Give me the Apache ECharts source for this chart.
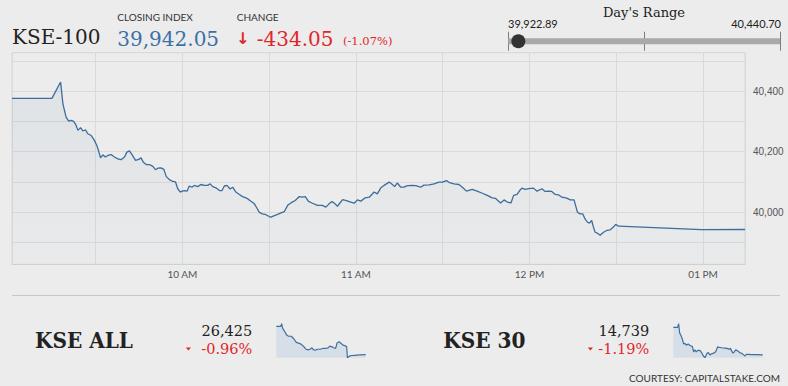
<!DOCTYPE html>
<html><head><meta charset="utf-8">
<script src="https://cdn.jsdelivr.net/npm/echarts@6/dist/echarts.min.js"></script>
<style>html,body{margin:0;padding:0;background:#ececec;}#c{width:788px;height:386px;}</style>
</head><body><div id="c"></div><script>
// ---- Data (minutes after 09:00) ----
const mainMinutes = [1.1,14.9,17.9,18.7,19.8,20.7,21.6,22.4,23.1,23.9,24.8,25.6,26.5,27.3,28.5,29.6,30.5,31.1,31.7,32.5,33.4,34.2,35.4,36.5,37.7,38.8,40.0,40.8,41.7,42.6,43.8,44.9,45.7,46.5,47.5,48.6,49.8,50.7,51.5,52.6,53.6,54.4,55.5,56.7,57.6,58.4,59.3,59.9,60.7,61.6,62.4,63.3,64.1,65.3,66.4,67.6,68.7,69.6,70.5,71.6,72.8,73.7,74.5,75.4,76.5,77.4,78.5,79.7,80.8,82.0,83.1,84.9,85.7,86.6,87.7,88.9,90.0,90.6,91.8,92.9,94.1,95.2,96.4,97.5,99.0,100.4,101.5,102.5,103.6,105.0,106.7,108.4,109.6,110.7,111.7,112.8,113.6,114.4,115.4,116.7,118.2,119.4,120.5,121.7,123.2,124.6,126.3,127.4,128.6,129.7,131.5,132.6,133.4,134.3,135.5,136.6,137.8,139.5,140.7,142.4,143.5,145.3,147.0,148.7,149.9,151.3,152.4,153.9,155.6,156.8,158.2,160.2,161.9,163.7,165.4,167.1,168.3,170.0,171.2,172.3,173.6,174.5,175.7,176.6,177.4,178.5,179.7,181.4,182.6,184.3,185.4,186.6,187.7,188.9,190.0,191.2,192.9,194.1,195.4,196.6,197.5,198.4,199.2,200.1,200.7,201.5,202.1,202.7,203.5,204.4,205.6,206.7,207.9,209.0,209.8,210.8,239.5,254.5];
const mainValues = [40376,40376,40430,40358,40314,40301,40303,40300,40290,40270,40279,40268,40272,40259,40253,40237,40218,40200,40179,40189,40182,40187,40190,40182,40176,40173,40182,40198,40202,40190,40171,40174,40179,40165,40157,40157,40151,40140,40145,40146,40141,40118,40107,40101,40100,40077,40066,40069,40071,40069,40086,40082,40088,40084,40091,40088,40088,40093,40084,40080,40071,40071,40086,40088,40076,40082,40066,40058,40051,40047,40040,40027,40014,39999,39994,39991,39985,39983,39988,39992,39997,40001,40022,40030,40038,40051,40049,40051,40035,40029,40022,40022,40016,40027,40035,40027,40019,40029,40041,40038,40033,40029,40040,40036,40047,40049,40066,40060,40080,40088,40099,40091,40084,40096,40082,40082,40087,40088,40087,40082,40089,40090,40093,40099,40099,40104,40097,40093,40091,40082,40069,40075,40069,40062,40055,40047,40045,40030,40040,40033,40030,40055,40058,40071,40079,40075,40077,40079,40069,40077,40068,40069,40068,40058,40057,40049,40046,40040,40040,39999,39994,39994,39977,39966,39963,39972,39950,39933,39930,39923,39933,39939,39941,39950,39959,39953,39942,39942.05];

const allMinutes = [1,13.3,16.1,18.9,24.6,30.3,35.9,43.5,51.0,57.6,64.2,71.8,79.4,85.0,90.7,96.3,102.0,106.7,111.4,117.1,124.7,133.2,139.8,147.3,153.0,158.6,163.4,169.0,172.8,178.5,183.2,189.8,196.4,200.2,202.1,208.7,222.8,237.0,254];
const allValues = [26681,26681,26706,26666,26635,26604,26592,26592,26567,26536,26530,26518,26496,26474,26468,26474,26487,26468,26465,26474,26474,26481,26481,26487,26502,26496,26487,26481,26530,26542,26530,26511,26505,26496,26397,26413,26419,26422,26425];

const k30Minutes = [1,13.3,16.1,18.9,22.7,26.5,30.3,34.0,37.8,43.5,49.1,54.8,58.6,62.4,66.1,71.8,77.5,81.2,86.0,90.7,96.3,100.1,104.8,109.5,115.2,120.9,126.6,131.3,137.9,147.3,153.0,158.6,162.4,166.2,170.0,173.7,177.5,183.2,188.9,194.5,200.2,204.0,207.7,213.4,222.8,237.0,254];
const k30Values = [14916,14916,14940,14881,14864,14842,14809,14813,14802,14809,14798,14794,14759,14772,14759,14770,14765,14754,14732,14721,14750,14754,14739,14746,14750,14759,14791,14787,14785,14783,14781,14776,14781,14765,14750,14759,14772,14765,14754,14750,14739,14732,14743,14743,14741,14741,14739];

const closeIndex = 39942.05, changeValue = -434.05, changePct = -1.07;
const dayLow = 39922.89, dayHigh = 40440.70;
const allClose = 26425, allPct = -0.96;
const k30Close = 14739, k30Pct = -1.19;
const yMin = 39827, yMax = 40527;

// ---- helpers ----
const fmt = (v, d) => v.toLocaleString('en-US', {minimumFractionDigits: d, maximumFractionDigits: d});
const pair = (xs, ys) => xs.map((x, i) => [x, ys[i]]);
const RED = '#e0262b', BLUE = '#3b71a8', DARK = '#222';
const SERIF = '"DejaVu Serif", serif';
const BOLDSERIF = '"DejaVu Serif Condensed", "DejaVu Serif", serif';
function txt(x, y, text, font, fill, align) {
  return {type: 'text', x: x, y: y, silent: true,
    style: {text: text, font: font, fill: fill, align: align || 'left', verticalAlign: 'middle'}};
}
function sign(v, d) { return (v < 0 ? '-' : '+') + fmt(Math.abs(v), d); }

const chart = echarts.init(document.getElementById('c'), null, {renderer: 'svg'});
const hidden = {show: false};

chart.setOption({
  backgroundColor: '#ececec',
  animation: false,
  grid: [
    {left: 12, top: 52.7, width: 733, height: 211.6, show: true, borderColor: '#d9d9d9', borderWidth: 1, backgroundColor: 'transparent'},
    {left: 508.3, top: 31.7, width: 271.7, height: 19},
    {left: 276.3, top: 323.7, width: 89.4, height: 34},
    {left: 673.3, top: 323.7, width: 89.4, height: 34}
  ],
  xAxis: [
    {gridIndex: 0, type: 'value', min: mainMinutes[0], max: mainMinutes[mainMinutes.length - 1], splitNumber: 8,
      axisLine: {show: true, lineStyle: {color: '#d0d0d0'}}, axisTick: {show: false},
      splitLine: {show: true, lineStyle: {color: '#dadada'}},
      axisLabel: {color: '#555', fontFamily: 'Lato', fontSize: 10, margin: 5, showMinLabel: true, showMaxLabel: true,
        formatter: function (v) {
          const r = Math.round(v);
          if (Math.abs(v - r) > 0.01 || r % 60 !== 0) return '';
          const h = 9 + r / 60;
          const h12 = h > 12 ? h - 12 : h;
          return (h12 < 10 ? '0' : '') + h12 + (h >= 12 ? ' PM' : ' AM');
        }}},
    {gridIndex: 1, type: 'value', min: dayLow, max: dayHigh, interval: (dayHigh - dayLow) / 2,
      axisLine: hidden, axisTick: hidden, axisLabel: hidden,
      splitLine: {show: true, lineStyle: {color: '#7c7c7c', width: 1}}},
    {gridIndex: 2, type: 'value', min: 'dataMin', max: 'dataMax', show: false},
    {gridIndex: 3, type: 'value', min: 'dataMin', max: 'dataMax', show: false}
  ],
  yAxis: [
    {gridIndex: 0, type: 'value', position: 'right', min: yMin, max: yMax, splitNumber: 7,
      axisLine: hidden, axisTick: hidden,
      splitLine: {show: true, lineStyle: {color: '#dadada'}},
      axisLabel: {color: '#555', fontFamily: '"Liberation Sans", Arial, sans-serif', fontSize: 10, margin: 8,
        formatter: function (v) {
          const r = Math.round(v);
          if (Math.abs(v - r) > 0.01 || r % 200 !== 0) return '';
          return fmt(r, 0);
        }}},
    {gridIndex: 1, type: 'value', min: -1, max: 1, show: false},
    {gridIndex: 2, type: 'value', min: 'dataMin', max: 'dataMax', show: false, scale: true},
    {gridIndex: 3, type: 'value', min: 'dataMin', max: 'dataMax', show: false, scale: true}
  ],
  series: [
    {type: 'line', xAxisIndex: 0, yAxisIndex: 0, data: pair(mainMinutes, mainValues), symbol: 'none', silent: true,
      lineStyle: {color: '#3d6d9c', width: 1.3},
      areaStyle: {color: new echarts.graphic.LinearGradient(0, 0, 0, 1, [
        {offset: 0, color: 'rgba(61,109,156,0.11)'}, {offset: 1, color: 'rgba(61,109,156,0.02)'}])}},
    {type: 'line', xAxisIndex: 1, yAxisIndex: 1, data: [[dayLow, 0], [dayHigh, 0]], symbol: 'none', silent: true, z: 2,
      lineStyle: {color: '#a9a9a9', width: 6, cap: 'butt'}},
    {type: 'scatter', xAxisIndex: 1, yAxisIndex: 1, data: [[closeIndex, 0]], symbolSize: 14, silent: true, z: 6,
      itemStyle: {color: '#333', opacity: 1}},
    {type: 'line', xAxisIndex: 2, yAxisIndex: 2, data: pair(allMinutes, allValues), symbol: 'none', silent: true,
      lineStyle: {color: '#3f6f9d', width: 1.2}, areaStyle: {color: '#d6dfe8', opacity: 1}},
    {type: 'line', xAxisIndex: 3, yAxisIndex: 3, data: pair(k30Minutes, k30Values), symbol: 'none', silent: true,
      lineStyle: {color: '#3f6f9d', width: 1.2}, areaStyle: {color: '#d6dfe8', opacity: 1}}
  ],
  graphic: [
    txt(12, 37, 'KSE-100', '20px ' + SERIF, DARK),
    txt(117.3, 16.7, 'CLOSING INDEX', '10px Lato', '#333'),
    txt(117.3, 38.5, fmt(closeIndex, 2), '20px ' + SERIF, BLUE),
    txt(236.7, 16.7, 'CHANGE', '10px Lato', '#333'),
    txt(236, 38.5, '↓', 'bold 16px "DejaVu Sans"', RED),
    txt(256.7, 38.5, sign(changeValue, 2), '20px ' + SERIF, RED),
    txt(343, 41, '(' + sign(changePct, 2) + '%)', '11.5px ' + SERIF, RED),
    txt(644, 12.3, "Day's Range", '13px ' + SERIF, DARK, 'center'),
    txt(508, 23.3, fmt(dayLow, 2), '11px Lato', DARK),
    txt(781, 23.3, fmt(dayHigh, 2), '11px Lato', DARK, 'right'),
    {type: 'line', silent: true, shape: {x1: 12, y1: 295.5, x2: 780, y2: 295.5}, style: {stroke: '#c6c6c6', lineWidth: 1.2}},
    txt(35, 339.5, 'KSE ALL', 'bold 22.3px ' + BOLDSERIF, DARK),
    txt(252.3, 330.7, fmt(allClose, 0), '14.5px ' + SERIF, DARK, 'right'),
    txt(252.3, 349, sign(allPct, 2) + '%', '14.5px ' + SERIF, RED, 'right'),
    {type: 'polygon', silent: true, shape: {points: [[185.8, 347.6], [191, 347.6], [188.4, 350.6]]}, style: {fill: RED}},
    txt(443.3, 339.5, 'KSE 30', 'bold 22.3px ' + BOLDSERIF, DARK),
    txt(649.3, 330.7, fmt(k30Close, 0), '14.5px ' + SERIF, DARK, 'right'),
    txt(649.3, 349, sign(k30Pct, 2) + '%', '14.5px ' + SERIF, RED, 'right'),
    {type: 'polygon', silent: true, shape: {points: [[587.8, 347.6], [593, 347.6], [590.4, 350.6]]}, style: {fill: RED}},
    txt(780, 378.3, 'COURTESY: CAPITALSTAKE.COM', '10px Lato', '#333', 'right')
  ]
});
</script></body></html>
